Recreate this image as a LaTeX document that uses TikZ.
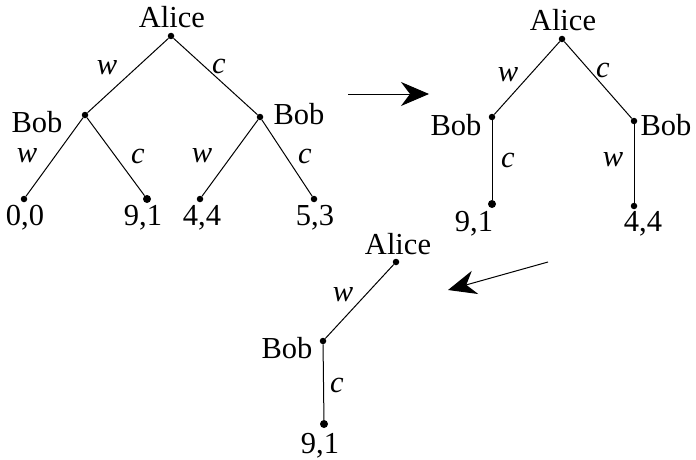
\documentclass[tikz,border=0pt]{standalone}
\usepackage{fontspec}
\setmainfont{Liberation Serif}
\usetikzlibrary{arrows.meta}
\tikzset{
  dot/.style={circle,fill=black,inner sep=0pt,minimum size=6.5pt},
  bigdot/.style={circle,fill=black,inner sep=0pt,minimum size=8pt},
  txt/.style={inner sep=0pt,anchor=base,font=\fontsize{30.5}{34}\selectfont},
  elab/.style={inner sep=0pt,anchor=center,font=\fontsize{30.5}{34}\selectfont\itshape},
  edge/.style={line width=1pt},
  bigarrow/.style={line width=1pt,-{Stealth[length=28pt,width=24pt,inset=9pt]}}
}
\begin{document}
\begin{tikzpicture}[x=1pt,y=-1pt]
\useasboundingbox (0,0) rectangle (696,460);
% Tree 1
\node[dot] (A1) at (171,36) {};
\node[dot] (B1) at (85,115) {};
\node[dot] (B2) at (260,117) {};
\node[dot] (L1) at (24,199) {};
\node[bigdot] (L2) at (147,199) {};
\node[dot] (L3) at (200,199) {};
\node[dot] (L4) at (314,199) {};
\draw[edge] (A1) -- (B1);
\draw[edge] (A1) -- (B2);
\draw[edge] (B1) -- (L1);
\draw[edge] (B1) -- (L2);
\draw[edge] (B2) -- (L3);
\draw[edge] (B2) -- (L4);
\node[txt] (tA1) at (172,28) {Alice};
\node[txt] (tB1) at (37,132) {Bob};
\node[txt] (tB2) at (299,124) {Bob};
\node[txt] (tL1) at (25,225) {0,0};
\node[txt] (tL2) at (143,225) {9,1};
\node[txt] (tL3) at (202,225) {4,4};
\node[txt] (tL4) at (315,225) {5,3};
\node[elab] (e1) at (107,68) {w};
\node[elab] (e2) at (219,66) {c};
\node[elab] (e3) at (27,156) {w};
\node[elab] (e4) at (138,156) {c};
\node[elab] (e5) at (202,156) {w};
\node[elab] (e6) at (305,156) {c};
% Arrow 1
\coordinate (r1s) at (348,94);
\coordinate (r1e) at (429,94);
\draw[bigarrow] (r1s) -- (r1e);
% Tree 2
\node[dot] (A2) at (562,39) {};
\node[dot] (C1) at (492,117) {};
\node[dot] (C2) at (634,121) {};
\node[bigdot] (M1) at (492,204) {};
\node[dot] (M2) at (634,206) {};
\draw[edge] (A2) -- (C1);
\draw[edge] (A2) -- (C2);
\draw[edge] (C1) -- (M1);
\draw[edge] (C2) -- (M2);
\node[txt] (tA2) at (563,31) {Alice};
\node[txt] (tC1) at (456,135) {Bob};
\node[txt] (tC2) at (666,135) {Bob};
\node[txt] (tM1) at (474,231) {9,1};
\node[txt] (tM2) at (643,231) {4,4};
\node[elab] (f1) at (508,75) {w};
\node[elab] (f2) at (603,70) {c};
\node[elab] (f3) at (508,160) {c};
\node[elab] (f4) at (613,160) {w};
% Arrow 2
\coordinate (r2s) at (548,262);
\coordinate (r2e) at (448,290);
\draw[bigarrow] (r2s) -- (r2e);
% Tree 3
\node[dot] (A3) at (396,262) {};
\node[dot] (D1) at (323,341) {};
\node[bigdot] (N1) at (324,424) {};
\draw[edge] (A3) -- (D1);
\draw[edge] (D1) -- (N1);
\node[txt] (tA3) at (398,254) {Alice};
\node[txt] (tD1) at (287,358) {Bob};
\node[txt] (tN1) at (320,453) {9,1};
\node[elab] (g1) at (343,295) {w};
\node[elab] (g2) at (337,385) {c};
\end{tikzpicture}
\end{document}
